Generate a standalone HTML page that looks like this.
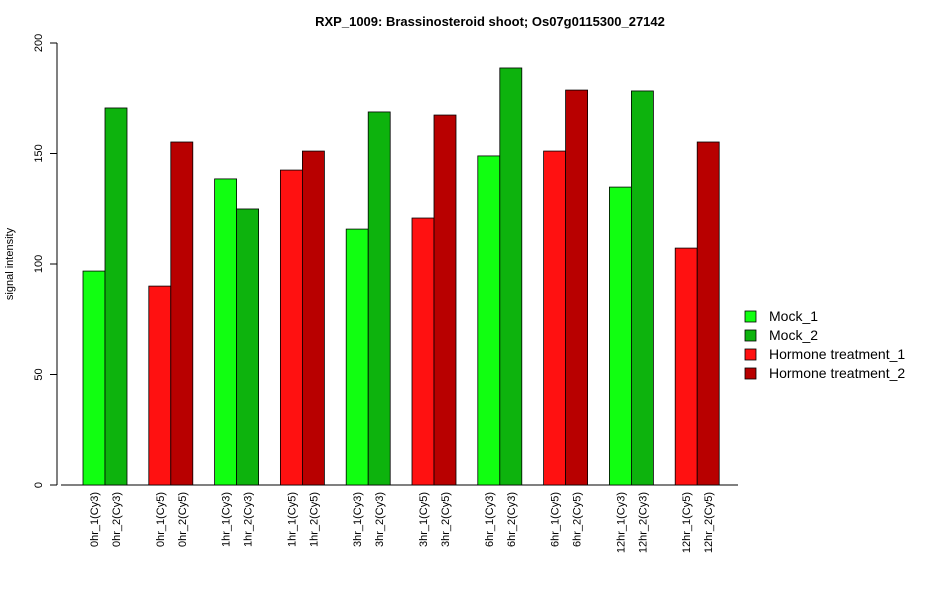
<!DOCTYPE html>
<html><head><meta charset="utf-8"><style>body{margin:0;background:#fff}svg{display:block;font-family:"Liberation Sans",sans-serif}</style></head>
<body>
<svg id="chart" width="950" height="600" xmlns="http://www.w3.org/2000/svg">
<text x="490" y="26" text-anchor="middle" font-size="13" font-weight="bold">RXP_1009: Brassinosteroid shoot; Os07g0115300_27142</text>
<text transform="translate(13,264) rotate(-90)" text-anchor="middle" font-size="11">signal intensity</text>
<g id="axes"></g><g id="bars"></g><g id="legend"></g>
</svg>
<script>
const labels=["0hr_1(Cy3)","0hr_2(Cy3)","0hr_1(Cy5)","0hr_2(Cy5)","1hr_1(Cy3)","1hr_2(Cy3)","1hr_1(Cy5)","1hr_2(Cy5)","3hr_1(Cy3)","3hr_2(Cy3)","3hr_1(Cy5)","3hr_2(Cy5)","6hr_1(Cy3)","6hr_2(Cy3)","6hr_1(Cy5)","6hr_2(Cy5)","12hr_1(Cy3)","12hr_2(Cy3)","12hr_1(Cy5)","12hr_2(Cy5)"];
const values=[96.8,170.6,90,155.2,138.5,124.9,142.5,151.1,115.8,168.8,120.8,167.4,148.9,188.7,151.1,178.7,134.8,178.3,107.2,155.2];
const seriesIdx=[0,1,2,3,0,1,2,3,0,1,2,3,0,1,2,3,0,1,2,3];
const seriesNames=["Mock_1","Mock_2","Hormone treatment_1","Hormone treatment_2"];
const seriesColors=["#11ff11","#0db30d","#ff1111","#b80000"];
const yTicks=[0,50,100,150,200];
const NS="http://www.w3.org/2000/svg";
function el(t,a,p){const e=document.createElementNS(NS,t);for(const k in a)e.setAttribute(k,a[k]);p.appendChild(e);return e;}
const y=v=>485-v*2.21;
const x=i=>83+Math.floor(i/2)*65.8+(i%2)*22;
const axes=document.getElementById('axes'),bars=document.getElementById('bars'),leg=document.getElementById('legend');
const yl=el('line',{x1:57,x2:57,y1:y(0),y2:y(200),stroke:'#000'},axes);


yTicks.forEach(t=>{
 el('line',{x1:50,x2:57,y1:y(t),y2:y(t),stroke:'#000'},axes);
 const tx=el('text',{transform:`translate(42,${y(t)}) rotate(-90)`,'text-anchor':'middle','font-size':11},axes);
 tx.textContent=t;
 
 
});
const xl=el('line',{x1:61,x2:738,y1:485,y2:485,stroke:'#000'},axes);


values.forEach((v,i)=>{
 const r=el('rect',{x:x(i),y:y(v),width:22,height:y(0)-y(v),fill:seriesColors[seriesIdx[i]],stroke:'#000','stroke-width':0.8},bars);
 
 
 const t=el('text',{transform:`translate(${x(i)+15},492) rotate(-90)`,'text-anchor':'end','font-size':11},axes);
 t.textContent=labels[i];
 
 
});
seriesNames.forEach((n,k)=>{
 const g=el('g',{},leg);
 
 
 el('rect',{x:745,y:311+k*19,width:11,height:11,fill:seriesColors[k],stroke:'#000','stroke-width':0.8},g);
 const t=el('text',{x:769,y:321+k*19,'font-size':14},g);
 t.textContent=n;
});
</script>
</body></html>
